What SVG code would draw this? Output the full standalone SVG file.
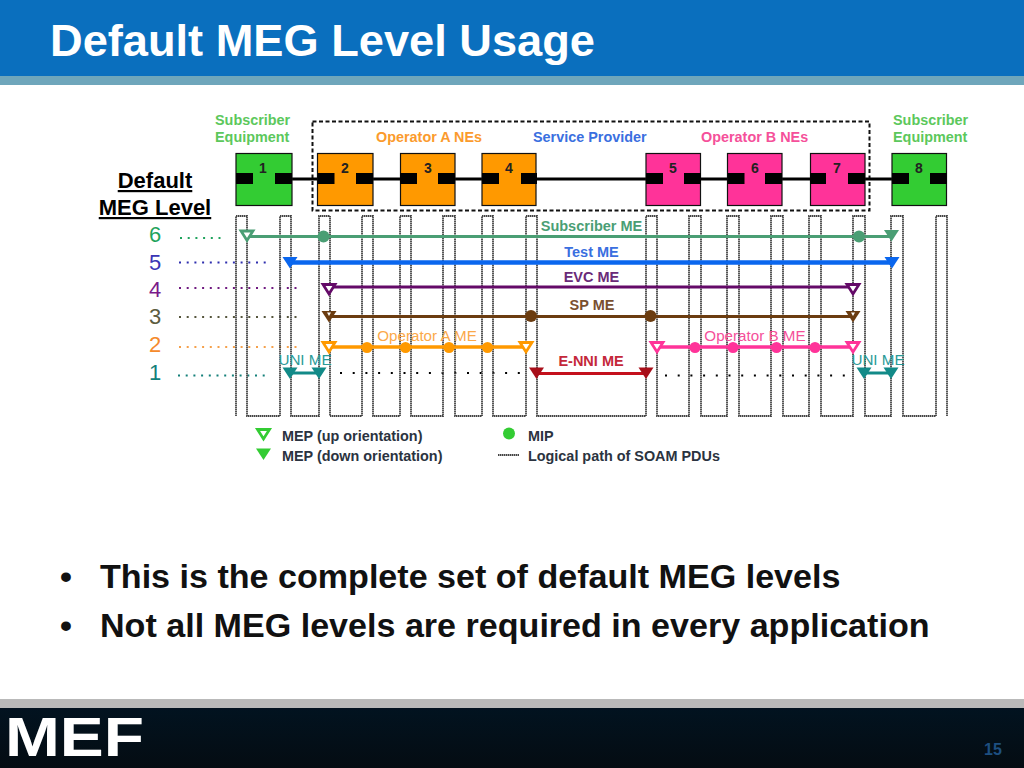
<svg xmlns="http://www.w3.org/2000/svg" width="1024" height="768" viewBox="0 0 1024 768">
<style>
text{font-family:"Liberation Sans",Arial,sans-serif}
.b{font-weight:bold}
.box{stroke:#111;stroke-width:1.2}
.port{fill:#000}
.num{font-size:14px;font-weight:bold;text-anchor:middle;fill:#222}
.lab{font-size:14.400px;font-weight:bold}
.me{font-size:14.500px;font-weight:bold;text-anchor:middle}
.thin{font-weight:normal;font-size:15.200px}
.lvl{font-size:22px;text-anchor:middle}
.dot{fill:none;stroke-width:2;stroke-dasharray:2 5.700}
.sparse{stroke-dasharray:2 10.700}
.ln{fill:none}
.hd{font-size:22px;font-weight:bold;text-anchor:middle;text-decoration:underline;fill:#000}
.bul{font-size:34.100px;font-weight:bold;fill:#111}
.leg{font-size:14.400px;font-weight:bold;fill:#2b3340}
.path{fill:none;stroke:#444;stroke-width:1.800;stroke-dasharray:1.500 0.500}
.hollow{fill:#fff;stroke-width:2.800}
</style>
<defs>
<linearGradient id="foot" x1="0" y1="0" x2="0" y2="1"><stop offset="0" stop-color="#021320"/><stop offset="1" stop-color="#040c12"/></linearGradient>
<polygon id="tri" points="-7.500,-5.500 7.500,-5.500 0,6"/>
<polygon id="trih" points="-6,-4.500 6,-4.500 0,5"/>
<polygon id="trim" points="-2,-2.500 2,-2.500 0,1"/>
</defs>
<rect width="1024" height="768" fill="#fff"/>
<rect width="1024" height="76" fill="#0a6fbe"/>
<rect y="76" width="1024" height="9" fill="#6fa6bb"/>
<rect y="699" width="1024" height="9" fill="#b9b9b9"/>
<rect y="708" width="1024" height="60" fill="url(#foot)"/>
<text class="b" x="50" y="56" font-size="45.200" fill="#fff">Default MEG Level Usage</text>
<text class="b" x="5" y="756" font-size="56" fill="#fff" textLength="139" lengthAdjust="spacingAndGlyphs">MEF</text>
<text class="b" x="984" y="755" font-size="16" fill="#1d4f80">15</text>

<text class="bul" x="60" y="588">•</text>
<text class="bul" x="100" y="588">This is the complete set of default MEG levels</text>
<text class="bul" x="60" y="637">•</text>
<text class="bul" x="100" y="637">Not all MEG levels are required in every application</text>

<g id="level-labels">
<text class="hd" x="155" y="188">Default</text>
<text class="hd" x="155" y="215">MEG Level</text>
<text class="lvl" x="155" y="242" fill="#1fa35c">6</text>
<text class="lvl" x="155" y="270" fill="#3a35b5">5</text>
<text class="lvl" x="155" y="297" fill="#7a1a8a">4</text>
<text class="lvl" x="155" y="324" fill="#5c5c40">3</text>
<text class="lvl" x="155" y="352" fill="#f58a2c">2</text>
<text class="lvl" x="155" y="380" fill="#14807a">1</text>
</g>

<g id="level-guides">
<path class="dot" stroke="#1fa35c" d="M180 238H222"/>
<path class="dot" stroke="#2f2fae" d="M179 262.500H266"/>
<path class="dot" stroke="#701a80" d="M179 288H302"/>
<path class="dot" stroke="#55553c" d="M179 317H302"/>
<path class="dot" stroke="#f5a04a" d="M179 347H302"/>
<path class="dot" stroke="#14807a" d="M178 375.500H270"/>
<path class="dot sparse" stroke="#000" d="M340 373H526"/>
<path class="dot sparse" stroke="#000" d="M665 375.500H851"/>
</g>

<g id="region-labels">
<text class="lab" x="215" y="125" fill="#5cc85c">Subscriber</text>
<text class="lab" x="215" y="142" fill="#5cc85c">Equipment</text>
<text class="lab" x="893" y="125" fill="#5cc85c">Subscriber</text>
<text class="lab" x="893" y="142" fill="#5cc85c">Equipment</text>
<text class="lab" x="376" y="142" fill="#fb9b2d">Operator A NEs</text>
<text class="lab" x="533" y="142" fill="#3a6fe0">Service Provider</text>
<text class="lab" x="701" y="142" fill="#f5509a">Operator B NEs</text>
</g>

<g id="connectors">
<rect x="312.500" y="121.500" width="557" height="89" fill="none" stroke="#111" stroke-width="2" stroke-dasharray="4 2.500"/>
<path d="M275 179H900" fill="none" stroke="#000" stroke-width="3"/>
<path id="logical-path" class="path" d="M236 416V216H247V416H280V216H291V416H319V216H330V416H362V216H373V416H400V216H411V416H443V216H455V416H482V216H493V416H526V216H537V416H646V216H657V416H689V216H701V416H727V216H739V416H771V216H783V416H809V216H821V416H853V216H865V416H891V216H903V416H936V216H947V416"/>
<path class="ln" stroke="#4a9e74" stroke-width="3" d="M247 236.500H891"/>
<path class="ln" stroke="#0a66ee" stroke-width="4.500" d="M290 262.500H891"/>
<path class="ln" stroke="#640a68" stroke-width="3" d="M329 287H853"/>
<path class="ln" stroke="#6b3c10" stroke-width="3" d="M329 316.500H853"/>
<path class="ln" stroke="#ff9900" stroke-width="3.500" d="M329 347H526"/>
<path class="ln" stroke="#ff3399" stroke-width="3.500" d="M657 347H853"/>
<path class="ln" stroke="#c4101c" stroke-width="3" d="M536 373.500H646"/>
<path class="ln" stroke="#128a88" stroke-width="3" d="M290 373H319M864 373H891"/>
</g>

<g id="node-1"><rect class="box" x="236" y="153.500" width="56" height="52" fill="#33cc33"/><rect class="port" x="236" y="173" width="17" height="11"/><rect class="port" x="275" y="173" width="17" height="11"/><text class="num" x="263" y="173">1</text></g>
<g id="node-2"><rect class="box" x="317.500" y="153.500" width="55.500" height="52" fill="#ff9900"/><rect class="port" x="317.500" y="173" width="17" height="11"/><rect class="port" x="356" y="173" width="17" height="11"/><text class="num" x="345" y="173">2</text></g>
<g id="node-3"><rect class="box" x="400.500" y="153.500" width="54.500" height="52" fill="#ff9900"/><rect class="port" x="400" y="173" width="17" height="11"/><rect class="port" x="438" y="173" width="17" height="11"/><text class="num" x="428" y="173">3</text></g>
<g id="node-4"><rect class="box" x="482" y="153.500" width="54" height="52" fill="#ff9900"/><rect class="port" x="482" y="173" width="17" height="11"/><rect class="port" x="521" y="173" width="16" height="11"/><text class="num" x="509" y="173">4</text></g>
<g id="node-5"><rect class="box" x="646" y="153.500" width="54.500" height="52" fill="#ff3399"/><rect class="port" x="646" y="173" width="17" height="11"/><rect class="port" x="684" y="173" width="17" height="11"/><text class="num" x="673" y="173">5</text></g>
<g id="node-6"><rect class="box" x="727.500" y="153.500" width="54.500" height="52" fill="#ff3399"/><rect class="port" x="727.500" y="173" width="17" height="11"/><rect class="port" x="765" y="173" width="17" height="11"/><text class="num" x="755" y="173">6</text></g>
<g id="node-7"><rect class="box" x="810.500" y="153.500" width="54.500" height="52" fill="#ff3399"/><rect class="port" x="810" y="173" width="16" height="11"/><rect class="port" x="848" y="173" width="17" height="11"/><text class="num" x="837" y="173">7</text></g>
<g id="node-8"><rect class="box" x="892" y="153.500" width="54.500" height="52" fill="#33cc33"/><rect class="port" x="892" y="173" width="17" height="11"/><rect class="port" x="930" y="173" width="17" height="11"/><text class="num" x="919" y="173">8</text></g>

<g id="mep-mip-markers">
<use href="#trih" class="hollow" transform="translate(247,235.500)" stroke="#4a9e74"/>
<circle cx="323.500" cy="236.500" r="6" fill="#4a9e74"/>
<circle cx="859" cy="236.500" r="6" fill="#4a9e74"/>
<use href="#tri" transform="translate(891.500,235.500)" fill="#4a9e74"/>
<use href="#tri" transform="translate(290,262.500)" fill="#0a66ee"/>
<use href="#tri" transform="translate(892,262.500)" fill="#0a66ee"/>
<use href="#trih" class="hollow" transform="translate(329,289)" stroke="#640a68"/>
<use href="#trih" class="hollow" transform="translate(853,289)" stroke="#640a68"/>
<use href="#tri" transform="translate(329,316.500)" fill="#6b3c10"/>
<use href="#tri" transform="translate(853,316.500)" fill="#6b3c10"/>
<use href="#trim" transform="translate(329,315)" fill="#fff"/>
<use href="#trim" transform="translate(853,315)" fill="#fff"/>
<circle cx="531" cy="316" r="6" fill="#6b3c10"/>
<circle cx="650.500" cy="316" r="6" fill="#6b3c10"/>
<use href="#trih" class="hollow" transform="translate(329,347)" stroke="#ff9900"/>
<use href="#trih" class="hollow" transform="translate(526,347)" stroke="#ff9900"/>
<circle cx="367" cy="347.500" r="5.500" fill="#ff9900"/><circle cx="405.500" cy="347.500" r="5.500" fill="#ff9900"/><circle cx="449" cy="347.500" r="5.500" fill="#ff9900"/><circle cx="487.500" cy="347.500" r="5.500" fill="#ff9900"/>
<use href="#trih" class="hollow" transform="translate(657,347)" stroke="#ff3399"/>
<use href="#trih" class="hollow" transform="translate(853,347)" stroke="#ff3399"/>
<circle cx="695" cy="347.500" r="5.500" fill="#ff3399"/><circle cx="733" cy="347.500" r="5.500" fill="#ff3399"/><circle cx="776.500" cy="347.500" r="5.500" fill="#ff3399"/><circle cx="815" cy="347.500" r="5.500" fill="#ff3399"/>
<use href="#tri" transform="translate(536.500,373)" fill="#a80f1a"/>
<use href="#tri" transform="translate(646,373)" fill="#a80f1a"/>
<use href="#tri" transform="translate(290,373)" fill="#128a88"/>
<use href="#tri" transform="translate(319,373)" fill="#128a88"/>
<use href="#tri" transform="translate(864,373)" fill="#128a88"/>
<use href="#tri" transform="translate(891,373)" fill="#128a88"/>
</g>

<g id="me-labels">
<text class="me" x="591.500" y="231" fill="#4a9e74">Subscriber ME</text>
<text class="me" x="591.500" y="257" fill="#3a6fe0">Test ME</text>
<text class="me" x="591.500" y="282" fill="#6a2a78">EVC ME</text>
<text class="me" x="592" y="310" fill="#7a5030">SP ME</text>
<text class="me thin" x="427" y="341" fill="#fba94a">Operator A ME</text>
<text class="me thin" x="755" y="341" fill="#f5509a">Operator B ME</text>
<text class="me" x="591" y="366" fill="#c4283a">E-NNI ME</text>
<text class="me thin" x="305" y="365" fill="#2a9a98">UNI ME</text>
<text class="me thin" x="878" y="365" fill="#2a9a98">UNI ME</text>
</g>

<g id="legend">
<use href="#trih" class="hollow" transform="translate(263.500,434)" stroke="#33cc33"/>
<use href="#tri" transform="translate(263.500,454)" fill="#33cc33"/>
<text class="leg" x="282" y="441">MEP (up orientation)</text>
<text class="leg" x="282" y="461">MEP (down orientation)</text>
<circle cx="509" cy="433.500" r="6" fill="#33cc33"/>
<text class="leg" x="528" y="441">MIP</text>
<path class="path" d="M498 455H519"/>
<text class="leg" x="528" y="461">Logical path of SOAM PDUs</text>
</g>
</svg>
